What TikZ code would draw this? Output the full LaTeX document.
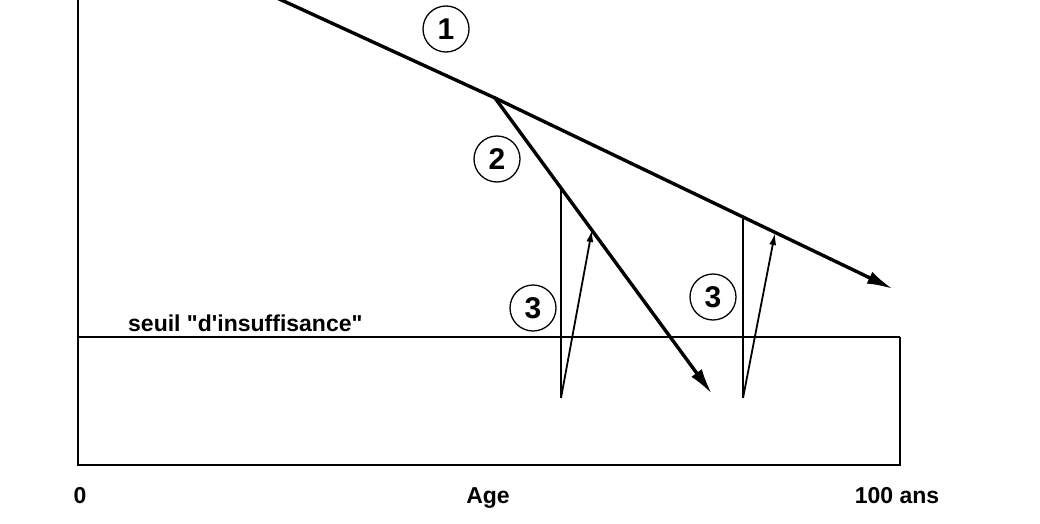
\documentclass[tikz,border=0pt]{standalone}
\usepackage{fontspec}
\setmainfont{Liberation Sans}[Ligatures=TeXOff]
\usetikzlibrary{arrows.meta}
\begin{document}
\begin{tikzpicture}[x=1pt,y=-1pt,
  num/.style={circle,draw,line width=1.3pt,minimum size=46pt,inner sep=0pt,font=\fontsize{30}{30}\selectfont\bfseries},
  lab/.style={font=\fontsize{23}{23}\selectfont\bfseries,anchor=base,inner sep=0pt},
  mainline/.style={line width=3.4pt,line cap=round,line join=round},
  mainarrow/.style={mainline,-{Latex[length=26pt,width=13pt]}},
  thinarrow/.style={line width=1.8pt,-{Latex[length=12pt,width=7pt]}},
  vline/.style={line width=2.2pt},
  axis/.style={line width=2.2pt}]
\useasboundingbox (0,0) rectangle (1040,524);
\clip (0,0) rectangle (1040,524);
% points
\coordinate (top) at (78,-5);
\coordinate (o) at (78,465);
\coordinate (xe) at (900,465);
\coordinate (tl) at (78,337);
\coordinate (tr) at (900,337);
\coordinate (s1) at (277,-2);
\coordinate (k) at (495,98);
\coordinate (e1) at (893,289);
\coordinate (e2) at (712,394);
\coordinate (a1) at (561,187);
\coordinate (b1) at (561,398);
\coordinate (c1) at (592,230);
\coordinate (a2) at (743,219);
\coordinate (b2) at (743,398);
\coordinate (c2) at (775,233);
% axes and threshold box
\draw[axis] (top) -- (o) -- (xe) -- (tr);
\draw[line width=1.6pt] (tl) -- (tr);
% main lines
\draw[mainline] (s1) -- (k);
\draw[mainarrow] (k) -- (e1);
\draw[mainarrow] (k) -- (e2);
% verticals and recovery arrows
\draw[vline] (a1) -- (b1);
\draw[thinarrow] (b1) -- (c1);
\draw[vline] (a2) -- (b2);
\draw[thinarrow] (b2) -- (c2);
% labels
\node[num] (n1) at (446,29) {1};
\node[num] (n2) at (497,159) {2};
\node[num] (n3a) at (533,308) {3};
\node[num] (n3b) at (713,297) {3};
\node[lab,anchor=base west] (seuil) at (128,331) {seuil "d'insuffisance"};
\node[lab] (zero) at (80,503) {0};
\node[lab] (age) at (488,503) {Age};
\node[lab] (cent) at (897,503) {100 ans};
\end{tikzpicture}
\end{document}
